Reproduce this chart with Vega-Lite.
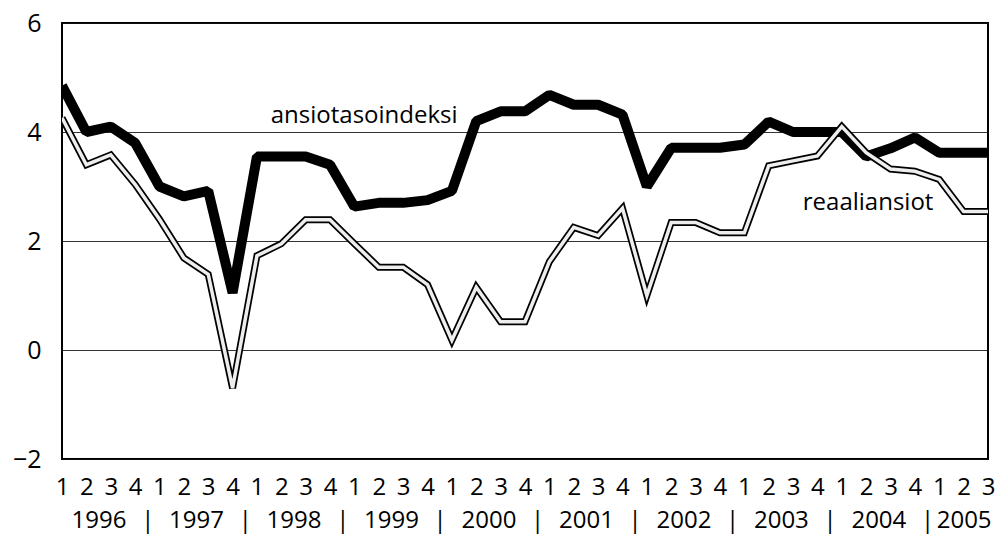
{
  "$schema": "https://vega.github.io/schema/vega-lite/v6.json",
  "autosize": "none",
  "width": 926,
  "height": 436,
  "padding": {"left": 62, "top": 23, "right": 10, "bottom": 77},
  "background": "white",
  "config": {
    "view": {"stroke": "black", "strokeWidth": 2},
    "font": "Open Sans",
    "axis": {"labelFont": "Open Sans", "labelFontSize": 24, "labelColor": "black", "domain": false, "ticks": false, "title": null}
  },
  "data": {"values": [
    {"t": 1996.0, "ansio": 4.85, "reaali": 4.26},
    {"t": 1996.25, "ansio": 4.0, "reaali": 3.4},
    {"t": 1996.5, "ansio": 4.1, "reaali": 3.58},
    {"t": 1996.75, "ansio": 3.8, "reaali": 3.04},
    {"t": 1997.0, "ansio": 3.0, "reaali": 2.4},
    {"t": 1997.25, "ansio": 2.82, "reaali": 1.69},
    {"t": 1997.5, "ansio": 2.92, "reaali": 1.39},
    {"t": 1997.75, "ansio": 1.05, "reaali": -0.7},
    {"t": 1998.0, "ansio": 3.55, "reaali": 1.73},
    {"t": 1998.25, "ansio": 3.55, "reaali": 1.95},
    {"t": 1998.5, "ansio": 3.55, "reaali": 2.39},
    {"t": 1998.75, "ansio": 3.4, "reaali": 2.39},
    {"t": 1999.0, "ansio": 2.63, "reaali": 1.95},
    {"t": 1999.25, "ansio": 2.7, "reaali": 1.52},
    {"t": 1999.5, "ansio": 2.7, "reaali": 1.52},
    {"t": 1999.75, "ansio": 2.75, "reaali": 1.2},
    {"t": 2000.0, "ansio": 2.92, "reaali": 0.18},
    {"t": 2000.25, "ansio": 4.2, "reaali": 1.15},
    {"t": 2000.5, "ansio": 4.38, "reaali": 0.52},
    {"t": 2000.75, "ansio": 4.38, "reaali": 0.52},
    {"t": 2001.0, "ansio": 4.68, "reaali": 1.62},
    {"t": 2001.25, "ansio": 4.5, "reaali": 2.25},
    {"t": 2001.5, "ansio": 4.5, "reaali": 2.1},
    {"t": 2001.75, "ansio": 4.32, "reaali": 2.6},
    {"t": 2002.0, "ansio": 3.0, "reaali": 1.0},
    {"t": 2002.25, "ansio": 3.71, "reaali": 2.34},
    {"t": 2002.5, "ansio": 3.71, "reaali": 2.34},
    {"t": 2002.75, "ansio": 3.71, "reaali": 2.15},
    {"t": 2003.0, "ansio": 3.77, "reaali": 2.15},
    {"t": 2003.25, "ansio": 4.19, "reaali": 3.38},
    {"t": 2003.5, "ansio": 4.0, "reaali": 3.47},
    {"t": 2003.75, "ansio": 4.0, "reaali": 3.56},
    {"t": 2004.0, "ansio": 4.0, "reaali": 4.1},
    {"t": 2004.25, "ansio": 3.55, "reaali": 3.62},
    {"t": 2004.5, "ansio": 3.7, "reaali": 3.32},
    {"t": 2004.75, "ansio": 3.9, "reaali": 3.28},
    {"t": 2005.0, "ansio": 3.62, "reaali": 3.13},
    {"t": 2005.25, "ansio": 3.62, "reaali": 2.54},
    {"t": 2005.5, "ansio": 3.62, "reaali": 2.54}
  ]},
  "resolve": {"axis": {"x": "independent", "y": "independent"}},
  "layer": [
    {
      "mark": {"type": "line", "color": "black", "strokeWidth": 10, "strokeJoin": "bevel", "clip": true},
      "encoding": {
        "x": {"field": "t", "type": "quantitative", "scale": {"domain": [1996, 2005.5], "nice": false, "zero": false},
          "axis": {"orient": "bottom", "grid": false, "labelPadding": 16, "labelFlush": false, "labelOverlap": false,
            "values": [1996,1996.25,1996.5,1996.75,1997,1997.25,1997.5,1997.75,1998,1998.25,1998.5,1998.75,1999,1999.25,1999.5,1999.75,2000,2000.25,2000.5,2000.75,2001,2001.25,2001.5,2001.75,2002,2002.25,2002.5,2002.75,2003,2003.25,2003.5,2003.75,2004,2004.25,2004.5,2004.75,2005,2005.25,2005.5],
            "labelExpr": "format(round((datum.value % 1) * 4) + 1, 'd')"}},
        "y": {"field": "ansio", "type": "quantitative", "scale": {"domain": [-2, 6], "nice": false, "zero": false},
          "axis": {"orient": "left", "values": [-2, 0, 2, 4, 6], "grid": true, "gridColor": "#111", "gridWidth": 1, "gridOpacity": 0.85, "labelPadding": 21, "labelBaseline": "middle", "labelFontSize": 25}}
      }
    },
    {
      "mark": {"type": "line", "color": "black", "strokeWidth": 7, "clip": true},
      "encoding": {
        "x": {"field": "t", "type": "quantitative",
          "axis": {"orient": "bottom", "grid": false, "labelPadding": 49, "labelFlush": false, "labelOverlap": false,
            "values": [1996.375,1996.875,1997.375,1997.875,1998.375,1998.875,1999.375,1999.875,2000.375,2000.875,2001.375,2001.875,2002.375,2002.875,2003.375,2003.875,2004.375,2004.875,2005.25],
            "labelExpr": "(datum.value % 1) == 0.875 ? '|' : format(floor(datum.value), 'd')"}},
        "y": {"field": "reaali", "type": "quantitative", "axis": null}
      }
    },
    {
      "mark": {"type": "line", "color": "#eeeeee", "strokeWidth": 3.5, "clip": true},
      "encoding": {
        "x": {"field": "t", "type": "quantitative", "axis": null},
        "y": {"field": "reaali", "type": "quantitative", "axis": null}
      }
    },
    {
      "data": {"values": [{"label": "ansiotasoindeksi"}]},
      "mark": {"type": "text", "font": "Open Sans", "fontSize": 24, "align": "center", "baseline": "alphabetic", "color": "black"},
      "encoding": {
        "text": {"field": "label"},
        "x": {"datum": 1999.1, "type": "quantitative", "axis": null},
        "y": {"datum": 4.17, "type": "quantitative", "axis": null}
      }
    },
    {
      "data": {"values": [{"label": "reaaliansiot"}]},
      "mark": {"type": "text", "font": "Open Sans", "fontSize": 24, "align": "center", "baseline": "alphabetic", "color": "black"},
      "encoding": {
        "text": {"field": "label"},
        "x": {"datum": 2004.27, "type": "quantitative", "axis": null},
        "y": {"datum": 2.57, "type": "quantitative", "axis": null}
      }
    }
  ]
}
